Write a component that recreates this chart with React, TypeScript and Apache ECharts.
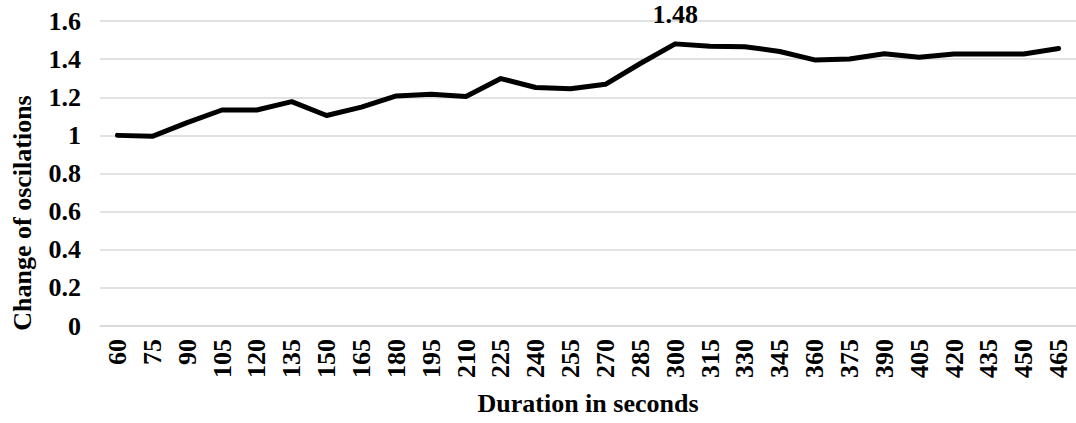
import React, { useEffect, useRef } from "react";
import * as echarts from "echarts";

const durations: string[] = [
  "60", "75", "90", "105", "120", "135", "150", "165", "180", "195", "210", "225", "240", "255",
  "270", "285", "300", "315", "330", "345", "360", "375", "390", "405", "420", "435", "450", "465",
];
const oscillationChange: number[] = [
  1.0, 0.995, 1.067, 1.133, 1.133, 1.177, 1.104, 1.148, 1.207, 1.216, 1.204, 1.298, 1.251, 1.245,
  1.268, 1.377, 1.48, 1.467, 1.465, 1.44, 1.396, 1.401, 1.428, 1.41, 1.427, 1.427, 1.427, 1.456,
];
const labelledIndex = 16;
const yTitle = "Change of oscilations";
const xTitle = "Duration in seconds";

const FONT = "Liberation Serif";
const FS = 26;

export default function App() {
  const ref = useRef<HTMLDivElement>(null);
  useEffect(() => {
    if (!ref.current) return;
    const chart = echarts.init(ref.current, undefined, { renderer: "svg" });
    chart.setOption({
      animation: false,
      backgroundColor: "#ffffff",
      textStyle: { fontFamily: FONT, fontWeight: "bold", color: "#000", fontSize: FS },
      grid: { left: 100, right: 0, top: 21, bottom: 97, containLabel: false },
      graphic: [
        {
          type: "text",
          x: 22,
          y: 213,
          rotation: Math.PI / 2,
          style: {
            text: yTitle,
            x: 0,
            y: 0,
            align: "center",
            verticalAlign: "middle",
            fontFamily: FONT,
            fontWeight: "bold",
            fontSize: FS,
            fill: "#000",
          },
        },
      ],
      xAxis: {
        type: "category",
        data: durations,
        boundaryGap: true,
        name: xTitle,
        nameLocation: "middle",
        nameGap: 64,
        nameTextStyle: { fontFamily: FONT, fontWeight: "bold", fontSize: FS, color: "#000" },
        axisLine: { show: true, lineStyle: { color: "#d9d9d9", width: 1.5 } },
        axisTick: { show: false },
        axisLabel: {
          rotate: 90,
          margin: 13,
          interval: 0,
          fontFamily: FONT,
          fontWeight: "bold",
          fontSize: FS,
          color: "#000",
        },
      },
      yAxis: {
        type: "value",
        min: 0,
        max: 1.6,
        interval: 0.2,
        axisLine: { show: false },
        axisTick: { show: false },
        axisLabel: {
          margin: 19,
          fontFamily: FONT,
          fontWeight: "bold",
          fontSize: FS,
          color: "#000",
          formatter: (v: number) => String(Math.round(v * 10) / 10),
        },
        splitLine: { lineStyle: { color: "#d9d9d9", width: 1.5 } },
      },
      series: [
        {
          type: "line",
          clip: false,
          symbol: "none",
          showSymbol: true,
          data: oscillationChange.map((v, i) =>
            i === labelledIndex
              ? {
                  value: v,
                  symbol: "circle",
                  symbolSize: 2,
                  itemStyle: { color: "#000" },
                  label: {
                    show: true,
                    position: "top",
                    distance: 15,
                    formatter: () => v.toFixed(2),
                    fontFamily: FONT,
                    fontWeight: "bold",
                    fontSize: FS,
                    color: "#000",
                  },
                }
              : v
          ),
          itemStyle: { color: "#000" },
          labelLayout: { hideOverlap: false },
          lineStyle: { color: "#000", width: 5, join: "round", cap: "round" },
        },
      ],
    });
    return () => chart.dispose();
  }, []);
  return (
    <div
      ref={ref}
      style={{ position: "fixed", left: 0, top: 0, width: 1076, height: 423, background: "#fff" }}
    />
  );
}
